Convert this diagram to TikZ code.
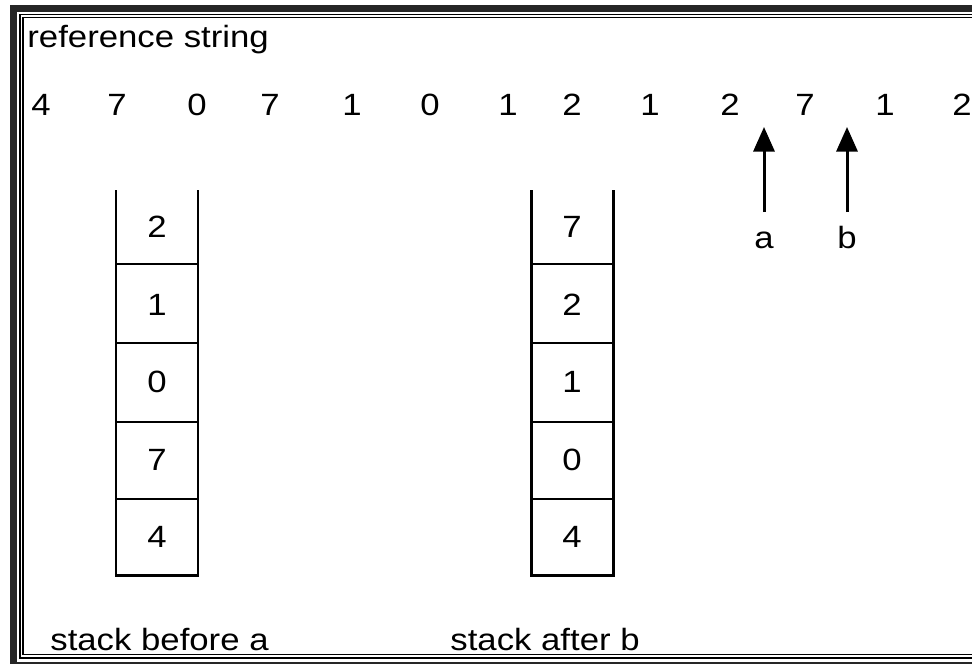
\documentclass[tikz,border=0pt]{standalone}
\usepackage{fontspec}
\setmainfont{Liberation Sans}
\usetikzlibrary{arrows.meta}
\begin{document}
\begin{tikzpicture}[x=0.02cm, y=-0.02cm, >={Triangle[width=12pt,length=14pt]},
  lbl/.style={font=\fontsize{17.5}{20}\selectfont, xscale=1.13, inner sep=0pt},
  wall/.style={line width=1.7pt},
  sep/.style={line width=1.2pt}]

\useasboundingbox (0,0) rectangle (972,663);
\clip (0,0) rectangle (972,663);

% Frame
\draw[line width=4pt, black!85] (13.5,8.5) rectangle (1100,665);
\draw[line width=0.9pt] (20,14.5) rectangle (1100,658);
\draw[line width=0.7pt] (23,17.5) rectangle (1100,654.5);

% Reference string
\node[lbl, anchor=base west] (title) at (27,47) {reference string};
\foreach \x/\d [count=\i] in {41/4,117/7,197/0,270/7,352/1,430/0,508/1,572/2,650/1,730/2,805/7,885/1,962/2} {
  \node[lbl, anchor=base] (ref\i) at (\x,115) {\d};
}

% Stacks
\foreach \s/\cx/\vals in {before/157/{2,1,0,7,4}, after/572/{7,2,1,0,4}} {
  \draw[wall] ({\cx-41},190) -- ({\cx-41},575) -- ({\cx+41},575) -- ({\cx+41},190);
  \foreach \y in {264,343,422,499} {
    \draw[sep] ({\cx-41},\y) -- ({\cx+41},\y);
  }
  \foreach \v [count=\j] in \vals {
    \node[lbl] (\s\j) at (\cx,{227+(\j-1)*77.5}) {\v};
  }
}

% Pointers a and b
\coordinate (atail) at (764,212);
\coordinate (ahead) at (764,127);
\coordinate (btail) at (847,212);
\coordinate (bhead) at (847,127);
\draw[->, line width=1.7pt] (atail) -- (ahead);
\draw[->, line width=1.7pt] (btail) -- (bhead);
\node[lbl, anchor=base] (a) at (764,248) {a};
\node[lbl, anchor=base] (b) at (847,248) {b};

% Captions
\node[lbl, anchor=base west] (capbefore) at (50,650) {stack before a};
\node[lbl, anchor=base west] (capafter) at (450,650) {stack after b};

\end{tikzpicture}
\end{document}
